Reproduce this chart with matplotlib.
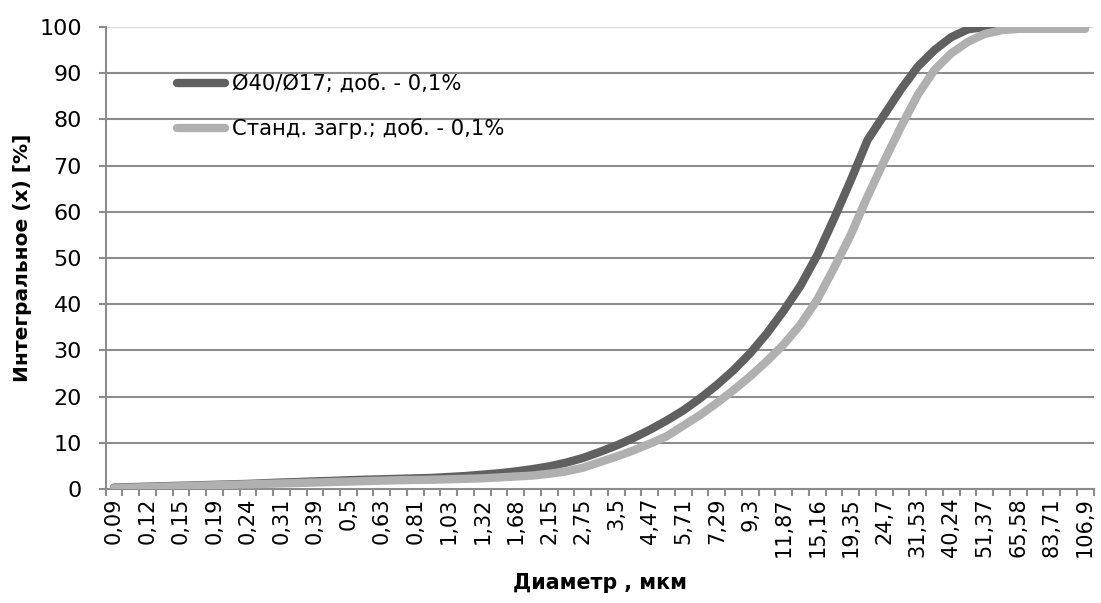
import matplotlib
matplotlib.use("Agg")
import matplotlib.pyplot as plt
from matplotlib.ticker import FixedLocator, NullFormatter

plt.rcParams['font.family'] = ['DejaVu Sans']

# размеры частиц (классы), мкм
diam = ["0,09", "0,10", "0,12", "0,13", "0,15", "0,17", "0,19", "0,21", "0,24", "0,27",
        "0,31", "0,35", "0,39", "0,44", "0,5", "0,56", "0,63", "0,71", "0,81", "0,91",
        "1,03", "1,16", "1,32", "1,49", "1,68", "1,9", "2,15", "2,42", "2,75", "3,1",
        "3,5", "3,95", "4,47", "5,05", "5,71", "6,44", "7,29", "8,23", "9,3", "10,5",
        "11,87", "13,41", "15,16", "17,12", "19,35", "21,85", "24,7", "27,9", "31,53", "35,62",
        "40,24", "45,47", "51,37", "58,05", "65,58", "74,1", "83,71", "94,6", "106,9"]

# Ø40/Ø17; доб. - 0,1%
s1 = [0.3, 0.4, 0.5, 0.6, 0.7, 0.8, 0.9, 1.0, 1.1, 1.25,
      1.4, 1.5, 1.65, 1.75, 1.9, 2.0, 2.1, 2.2, 2.3, 2.4,
      2.6, 2.8, 3.1, 3.4, 3.8, 4.3, 4.9, 5.7, 6.7, 8.0,
      9.4, 11.0, 12.8, 14.8, 17.0, 19.6, 22.5, 25.7, 29.4, 33.7,
      38.6, 44.0, 50.6, 58.5, 66.8, 75.5, 81.0, 86.5, 91.4, 95.0,
      97.8, 99.5, 100, 100, 100, 100, 100, 100, 100]

# Станд. загр.; доб. - 0,1%
s2 = [0.2, 0.3, 0.4, 0.5, 0.6, 0.7, 0.8, 0.9, 1.0, 1.1,
      1.2, 1.3, 1.4, 1.5, 1.6, 1.7, 1.8, 1.9, 1.95, 2.0,
      2.1, 2.2, 2.3, 2.5, 2.7, 2.9, 3.3, 3.8, 4.6, 5.8,
      7.0, 8.3, 9.8, 11.4, 13.7, 16.0, 18.6, 21.4, 24.4, 27.7,
      31.3, 35.6, 41.0, 47.8, 55.0, 63.3, 71.0, 78.4, 85.3, 90.7,
      94.3, 96.8, 98.5, 99.3, 99.6, 99.6, 99.6, 99.6, 99.6]

names = ["Ø40/Ø17; доб. - 0,1%", "Станд. загр.; доб. - 0,1%"]

##################################################
fig = plt.figure(figsize=(11.01, 6.03), dpi=100)
ax = fig.add_axes([0.0959, 0.1891, 0.8973, 0.7661])

x = list(range(len(diam)))
for yy in range(10, 100, 10):
    ax.axhline(yy, color='#8c8c8c', lw=1.5, zorder=1)
ax.axhline(100, color='#dcdcdc', lw=1.0, zorder=1)

ax.plot(x, s1, color='#606060', lw=6, solid_capstyle='round', solid_joinstyle='round', label=names[0], zorder=3)
ax.plot(x, s2, color='#b0b0b0', lw=6, solid_capstyle='round', solid_joinstyle='round', label=names[1], zorder=4)

ax.set_xlim(-0.5, len(diam) - 0.5)
ax.set_ylim(0, 100)
ax.set_yticks(range(0, 101, 10))
ax.tick_params(axis='y', labelsize=16, length=5, width=1.5, color='#8c8c8c', pad=12)

ax.xaxis.set_major_locator(FixedLocator(x[::2]))
ax.set_xticklabels(diam[::2], rotation=90, fontsize=15)
ax.xaxis.set_minor_locator(FixedLocator([i - 0.5 for i in range(len(diam) + 1)]))
ax.xaxis.set_minor_formatter(NullFormatter())
ax.tick_params(axis='x', which='major', length=0, pad=6)
ax.tick_params(axis='x', which='minor', length=5, width=1.5, color='#8c8c8c')

for side in ['top', 'right']:
    ax.spines[side].set_visible(False)
for side in ['left', 'bottom']:
    ax.spines[side].set_color('#8c8c8c')
    ax.spines[side].set_linewidth(1.5)

ax.set_ylabel("Интегральное (x) [%]", fontsize=14.5, fontweight='bold')
ax.yaxis.set_label_coords(-0.074, 0.5)
ax.set_xlabel("Диаметр , мкм", fontsize=14.8, fontweight='bold')
ax.xaxis.set_label_coords(0.5, -0.182)

leg = ax.legend(loc='upper left', bbox_to_anchor=(0.072, 0.898), frameon=False, fontsize=15.2,
                handlelength=2.3, handletextpad=0.3, labelspacing=1.15, borderaxespad=0, borderpad=0)

fig.savefig("out.png", dpi=100)
##################################################
